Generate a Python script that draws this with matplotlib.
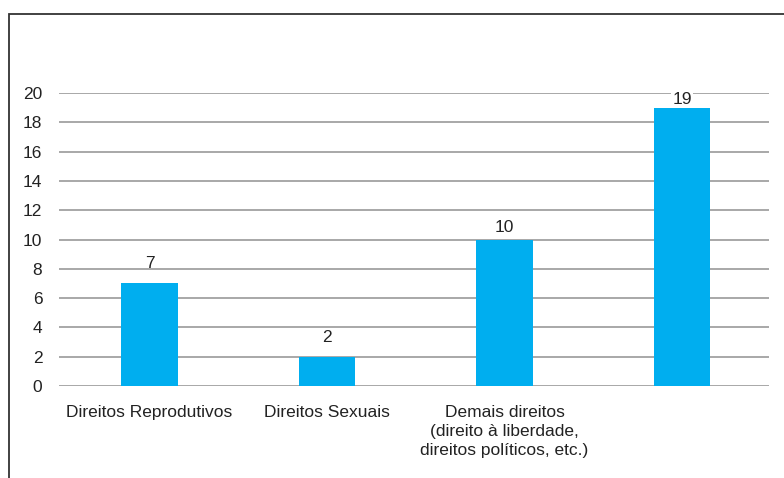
import matplotlib
matplotlib.use("Agg")
import matplotlib.pyplot as plt
from matplotlib.patches import Rectangle

categories = ["Direitos Reprodutivos", "Direitos Sexuais",
              "Demais direitos\n(direito à liberdade,\ndireitos políticos, etc.)", ""]
values = [7, 2, 10, 19]
yticks = [0, 2, 4, 6, 8, 10, 12, 14, 16, 18, 20]
label_gaps = [1.05, 1.0, 0.5, 0.25]

plt.rcParams['font.family'] = ['Liberation Sans', 'DejaVu Sans']

W, H = 784, 478
fig = plt.figure(figsize=(W / 100, H / 100), dpi=100)

# outer frame (left and top edges visible, right/bottom cut off)
frame = Rectangle((9 / W, -0.1), 1.2, 1 - 14 / H + 0.1, transform=fig.transFigure,
                  fill=False, edgecolor='#333333', linewidth=1.3)
fig.patches.append(frame)

ax = fig.add_axes([59 / W, 1 - 386 / H, (769 - 59) / W, (386 - 93) / H])
x = list(range(len(categories)))
ax.bar(x, values, width=0.32, color='#00AEEF', zorder=3)
ax.set_xlim(-0.51, len(categories) - 0.51)
ax.set_ylim(0, 20)
ax.set_yticks(yticks)
ax.set_yticklabels([str(t) for t in yticks], fontsize=12.5, color='#222222')
ax.set_xticks(x)
ax.set_xticklabels(categories, fontsize=12.5, color='#222222', linespacing=1.3)
ax.tick_params(axis='both', length=0)
ax.tick_params(axis='y', pad=12)
ax.tick_params(axis='x', pad=14)
for s in ax.spines.values():
    s.set_visible(False)
ax.yaxis.grid(True, color='#9a9a9a', linewidth=1.2, zorder=0)
ax.set_axisbelow(True)

for xi, v, g in zip(x, values, label_gaps):
    base = v + g
    crosses = any(base + 0.1 < t < base + 0.95 for t in yticks)
    bbox = dict(facecolor='white', edgecolor='none', pad=1.0) if crosses else None
    ax.text(xi, base, str(v), ha='center', va='baseline', fontsize=12.5,
            color='#222222', zorder=4, bbox=bbox)

fig.savefig("out.png", dpi=100)
